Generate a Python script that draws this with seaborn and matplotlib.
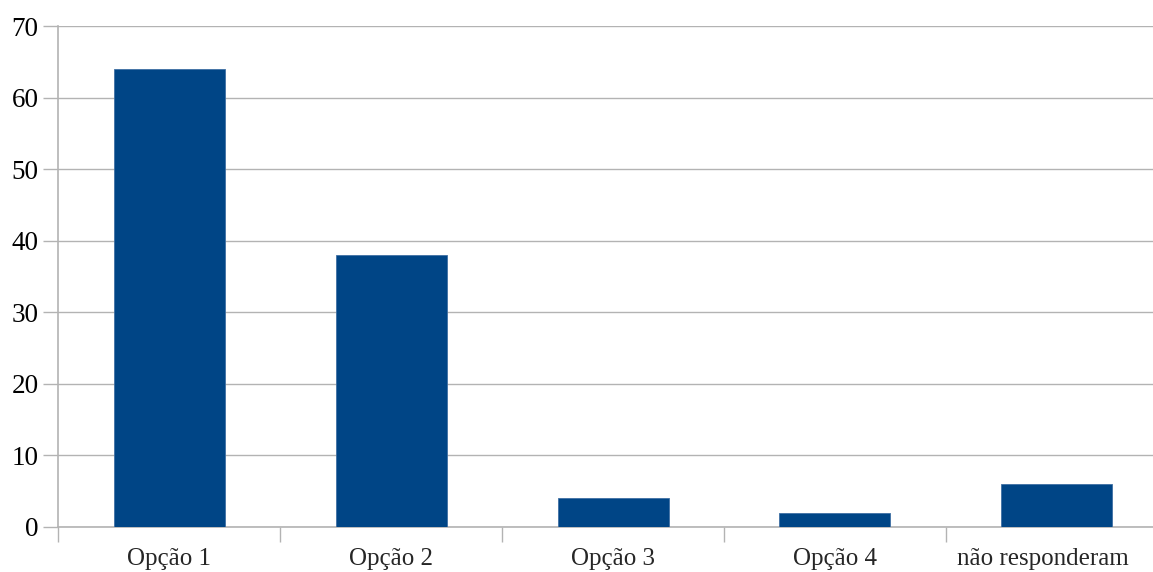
import numpy as np
import pandas as pd
import matplotlib
matplotlib.use("Agg")
import matplotlib.pyplot as plt
import matplotlib.transforms as mtransforms
import seaborn as sns

categories = ['Opção 1', 'Opção 2', 'Opção 3', 'Opção 4', 'não responderam']
values = [64, 38, 4, 2, 6]
yticks = [0, 10, 20, 30, 40, 50, 60, 70]

df = pd.DataFrame({'cat': categories, 'val': values})

sns.set_style("white")
plt.rcParams['font.family'] = ['Liberation Serif', 'DejaVu Serif']

fig = plt.figure(figsize=(11.53, 5.72), dpi=100)
ax = fig.add_axes([58 / 1153, 45 / 572, 1110 / 1153, 501 / 572])

sns.barplot(data=df, x='cat', y='val', color='#004586', width=0.5,
            saturation=1, ax=ax, edgecolor='#3f6fa3', linewidth=0.6, zorder=3)

ax.set_ylim(0, 70)
ax.set_xlim(-0.5, 4.5)
ax.set_yticks(yticks)
ax.set_yticklabels([str(t) for t in yticks], fontsize=19.5)
ax.yaxis.grid(True, color='#b3b3b3', linewidth=1, zorder=0)
ax.set_axisbelow(True)

# category boundaries as major ticks, labels on minor ticks
ax.set_xticks(np.arange(-0.5, 5, 1))
ax.set_xticklabels([])
ax.set_xticks(range(len(categories)), minor=True)
ax.set_xticklabels(categories, minor=True, fontsize=18)
ax.tick_params(axis='x', which='major', bottom=True, length=11, width=1,
               color='#b3b3b3', direction='out')
ax.tick_params(axis='x', which='minor', bottom=True, length=0, pad=15)
ax.tick_params(axis='y', left=True, length=11, width=1, color='#b3b3b3',
               direction='out', pad=3, labelcolor='black')

# last label is pulled in a little so it stays inside the picture
last = ax.xaxis.get_minor_ticks()[-1].label1
last.set_transform(last.get_transform() +
                   mtransforms.ScaledTranslation(-0.14, 0, fig.dpi_scale_trans))

for s in ['top', 'right']:
    ax.spines[s].set_visible(False)
for s in ['left', 'bottom']:
    ax.spines[s].set_color('#b3b3b3')
    ax.spines[s].set_linewidth(1.2)

ax.set_xlabel('')
ax.set_ylabel('')

fig.savefig('out.png', dpi=100)
